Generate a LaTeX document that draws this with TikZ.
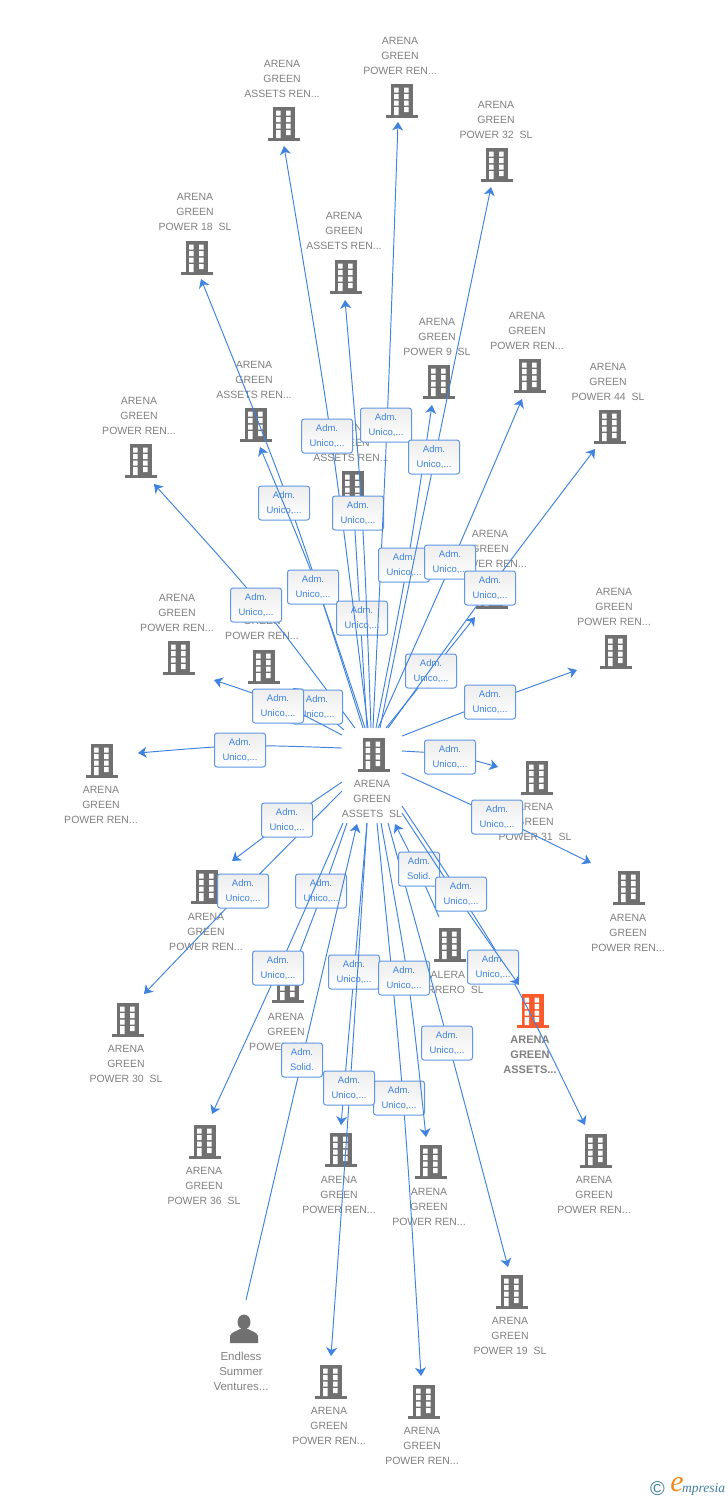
\documentclass[tikz,border=0pt]{standalone}
\usepackage{fontspec}
\setmainfont{Liberation Sans}
\newfontfamily\logofont{Liberation Serif}
\usetikzlibrary{calc,arrows.meta}
\definecolor{lnkblue}{HTML}{3F83DE}
\definecolor{boxedge}{HTML}{5F97E3}
\definecolor{labelgray}{HTML}{808080}
\definecolor{icongray}{HTML}{707070}
\definecolor{hilite}{HTML}{FB5A2B}
\definecolor{logoteal}{HTML}{3F7F9E}
\definecolor{logoorange}{HTML}{F28A1E}
\tikzset{
  lnkline/.style={draw=lnkblue,line width=0.95pt,-{Stealth[length=8.5pt,width=11pt,inset=2.5pt]}},
  tagbox/.style={draw=boxedge,line width=1pt,rounded corners=2.5pt,top color=black!7,bottom color=white,
    minimum width=51pt,minimum height=34pt,inner sep=0pt,align=center,text=lnkblue,
    font=\fontsize{9.5}{15}\selectfont},
  solidbox/.style={tagbox,minimum width=41pt},
  namelabel/.style={align=center,text=labelgray,inner sep=0pt,font=\fontsize{10.5}{15}\selectfont},
  personlabel/.style={namelabel,font=\fontsize{11.5}{15}\selectfont},
  boldlabel/.style={namelabel,font=\fontsize{11}{15}\selectfont\bfseries},
  pics/bld/.style={code={
    \fill[#1] (-11,-17) rectangle (11,14);
    \fill[#1] (-16,14) rectangle (16,17);
    \fill[white] (-8,-13.5) rectangle (-3.3,-8.5) (2,-13.5) rectangle (6.7,-8.5)
      (-8,-7) rectangle (-3.3,-2) (2,-7) rectangle (6.7,-2)
      (-8,-0.5) rectangle (-3.3,4.5) (2,-0.5) rectangle (6.7,4.5)
      (-8,6) rectangle (-3.3,14) (2,6) rectangle (6.7,11);
  }}
}
\newcommand\ent[6]{%
  \coordinate (#1i) at (#2,#3);
  \pic at (#1i) {bld=icongray};
  \node[namelabel] (#1) at (#4,#5+1) {#6};
}
\newcommand\lnk[6]{%
  \coordinate (#1s) at #2; \coordinate (#1v) at #3; \coordinate (#1e) at #4;
  \draw[lnkline] (#1s) .. controls ($1.3333*(#1v)-0.16667*(#1s)-0.16667*(#1e)$) .. (#1e);
  \node[tagbox] (#1b) at #5 {Adm.\\#6};
}
\newcommand\lns[5]{%
  \coordinate (#1s) at #2; \coordinate (#1v) at #3; \coordinate (#1e) at #4;
  \draw[lnkline] (#1s) .. controls ($1.3333*(#1v)-0.16667*(#1s)-0.16667*(#1e)$) .. (#1e);
  \node[solidbox] (#1b) at #5 {Adm.\\Solid.};
}
\begin{document}
\begin{tikzpicture}[x=1pt,y=-1pt]
\useasboundingbox (0,0) rectangle (728,1500);
\fill[white] (0,0) rectangle (728,1500);
% entities
\ent{a1}{284}{124}{282}{78}{ARENA\\GREEN\\ASSETS REN...}
\ent{a2}{402}{101}{400}{55}{ARENA\\GREEN\\POWER REN...}
\ent{a3}{497}{165}{496}{119}{ARENA\\GREEN\\POWER 32~~SL}
\ent{a4}{197}{258}{195}{211}{ARENA\\GREEN\\POWER 18~~SL}
\ent{a5}{346}{277}{344}{230}{ARENA\\GREEN\\ASSETS REN...}
\ent{a6}{439}{382}{437}{336}{ARENA\\GREEN\\POWER 9~~SL}
\ent{a7}{530}{376}{527}{330}{ARENA\\GREEN\\POWER REN...}
\ent{a8}{610}{427}{608}{381}{ARENA\\GREEN\\POWER 44~~SL}
\ent{a9}{256}{425}{254}{379}{ARENA\\GREEN\\ASSETS REN...}
\ent{a10}{141}{461}{139}{415}{ARENA\\GREEN\\POWER REN...}
\ent{a11}{353}{488}{351}{442}{ARENA\\GREEN\\ASSETS REN...}
\ent{a12}{492}{592}{490}{548}{ARENA\\GREEN\\POWER REN...}
\ent{a13}{616}{652}{614}{606}{ARENA\\GREEN\\POWER REN...}
\ent{a14}{179}{658}{177}{612}{ARENA\\GREEN\\POWER REN...}
\ent{a15}{264}{667}{262}{620}{ARENA\\GREEN\\POWER REN...}
\ent{a16}{102}{761}{101}{804}{ARENA\\GREEN\\POWER REN...}
\ent{a17}{537}{778}{535}{821}{ARENA\\GREEN\\POWER 31~~SL}
\ent{a18}{629}{888}{628}{932}{ARENA\\GREEN\\POWER REN...}
\ent{a19}{207}{887}{206}{931}{ARENA\\GREEN\\POWER REN...}
\ent{a20}{128}{1020}{126}{1063}{ARENA\\GREEN\\POWER 30~~SL}
\ent{a21}{205}{1142}{204}{1185}{ARENA\\GREEN\\POWER 36~~SL}
\ent{a22}{288}{986}{286}{1031}{ARENA\\GREEN\\POWER REN...}
\coordinate (a23i) at (450,945);
\pic at (a23i) {bld=icongray};
\node[namelabel,anchor=west] (a23) at (430.5,975) {ALERA};
\node[namelabel,anchor=east] (a23b) at (484,990) {RRERO~~SL};
\coordinate (a24i) at (532.5,1011);
\pic at (a24i) {bld=hilite};
\node[boldlabel] (a24) at (530,1055) {ARENA\\GREEN\\ASSETS...};
\ent{a25}{596}{1151}{594}{1194}{ARENA\\GREEN\\POWER REN...}
\ent{a26}{341}{1150}{339}{1194}{ARENA\\GREEN\\POWER REN...}
\ent{a27}{431}{1162}{429}{1206}{ARENA\\GREEN\\POWER REN...}
\ent{a28}{512}{1292}{510}{1335}{ARENA\\GREEN\\POWER 19~~SL}
\ent{a29}{331}{1382}{329}{1425}{ARENA\\GREEN\\POWER REN...}
\ent{a30}{424}{1402}{422}{1445}{ARENA\\GREEN\\POWER REN...}
\ent{c0}{373.5}{755}{372}{798}{ARENA\\GREEN\\ASSETS~~SL}
% person
\coordinate (pi) at (244,1329);
\fill[icongray] (244,1322) ellipse (6.5 and 7.5);
\fill[icongray] (230,1343) -- (230,1336) .. controls (231,1332) and (237,1331) .. (240,1329)
  -- (248,1329) .. controls (251,1331) and (257,1332) .. (258,1336) -- (258,1343) -- cycle;
\node[personlabel] (pl) at (241,1371) {Endless\\Summer\\Ventures...};
% links, lower fan
\lnk{t20}{(342,791)}{(243,891)}{(144,994)}{(243,891)}{Unico,...}
\lnk{t19}{(342,782)}{(287,820)}{(232,861)}{(287,820)}{Unico,...}
\lnk{t22}{(347,823)}{(323,891)}{(291,975)}{(321,891)}{Unico,...}
\lnk{t21}{(343,823)}{(279,968)}{(212,1114)}{(278,968)}{Unico,...}
\lnk{t30}{(377,823)}{(403,1098)}{(421,1376)}{(399,1098)}{Unico,...}
\lnk{t26}{(367,823)}{(354,974)}{(341,1125)}{(354,972)}{Unico,...}
\lnk{t27}{(381,823)}{(408,980)}{(426,1137)}{(404,978)}{Unico,...}
\lnk{t29}{(367,823)}{(350,1088)}{(331,1356)}{(349,1088)}{Unico,...}
\lnk{t28}{(388,823)}{(449,1045)}{(508,1267)}{(447,1043)}{Unico,...}
\lns{t23}{(439,917)}{(418,870)}{(395,824)}{(419,869)}
\lns{t31}{(246,1300)}{(302,1060)}{(357,824)}{(302,1060)}
\lnk{t25}{(402,806)}{(504,965)}{(585,1125)}{(493,967)}{Unico,...}
\lnk{t24}{(402,813)}{(459,899)}{(519,985)}{(461,894)}{Unico,...}
% links, right side
\lnk{t18}{(402,773)}{(497,817)}{(591,863)}{(497,817)}{Unico,...}
\lnk{t17}{(402,751)}{(450,755)}{(498,767)}{(450,757)}{Unico,...}
\lnk{t13}{(402,736)}{(490,702)}{(577,670)}{(490,702)}{Unico,...}
% links, left side
\lnk{t16}{(342,748)}{(240,746)}{(138,753)}{(240,750)}{Unico,...}
\lnk{t4}{(363,728)}{(289,503)}{(201,279)}{(284,503)}{Unico,...}
\lnk{t9}{(365,728)}{(317,587)}{(260,447)}{(313,587)}{Unico,...}
\lnk{t10}{(355,728)}{(261,605)}{(154,484)}{(256,605)}{Unico,...}
\lnk{t15}{(344,730)}{(317,707)}{(293,688)}{(317,707)}{Unico,...}
\lnk{t14}{(342,735)}{(278,703)}{(214,680)}{(278,706)}{Unico,...}
% links, upper fan
\lnk{t11}{(367,728)}{(360,613)}{(353,498)}{(362,618)}{Unico,...}
\lnk{t1}{(368,728)}{(331,437)}{(284,146)}{(327,436)}{Unico,...}
\lnk{t5}{(371,728)}{(362,514)}{(345,300)}{(358,513)}{Unico,...}
\lnk{t2}{(373,728)}{(387,425)}{(398,122)}{(386,425)}{Unico,...}
\lnk{t12}{(386,728)}{(431,672)}{(475,617)}{(431,671)}{Unico,...}
\lnk{t6}{(376,728)}{(407,566)}{(432,405)}{(404,565)}{Unico,...}
\lnk{t3}{(380,728)}{(435,457)}{(491,187)}{(434,457)}{Unico,...}
\lnk{t7}{(378,728)}{(452,562)}{(522,399)}{(450,562)}{Unico,...}
\lnk{t8}{(388,728)}{(490,588)}{(595,449)}{(490,588)}{Unico,...}
% logo
\node[text=logoteal,inner sep=0pt,font=\fontsize{20}{20}\selectfont] (lc) at (657.5,1489) {©};
\node[text=logoorange,inner sep=0pt,font=\logofont\itshape\fontsize{30}{30}\selectfont] (le) at (677,1485) {e};
\node[text=logoteal,inner sep=0pt,anchor=west,font=\logofont\itshape\fontsize{13.5}{14}\selectfont] (lm) at (682,1489.5) {mpresia};
\end{tikzpicture}
\end{document}
